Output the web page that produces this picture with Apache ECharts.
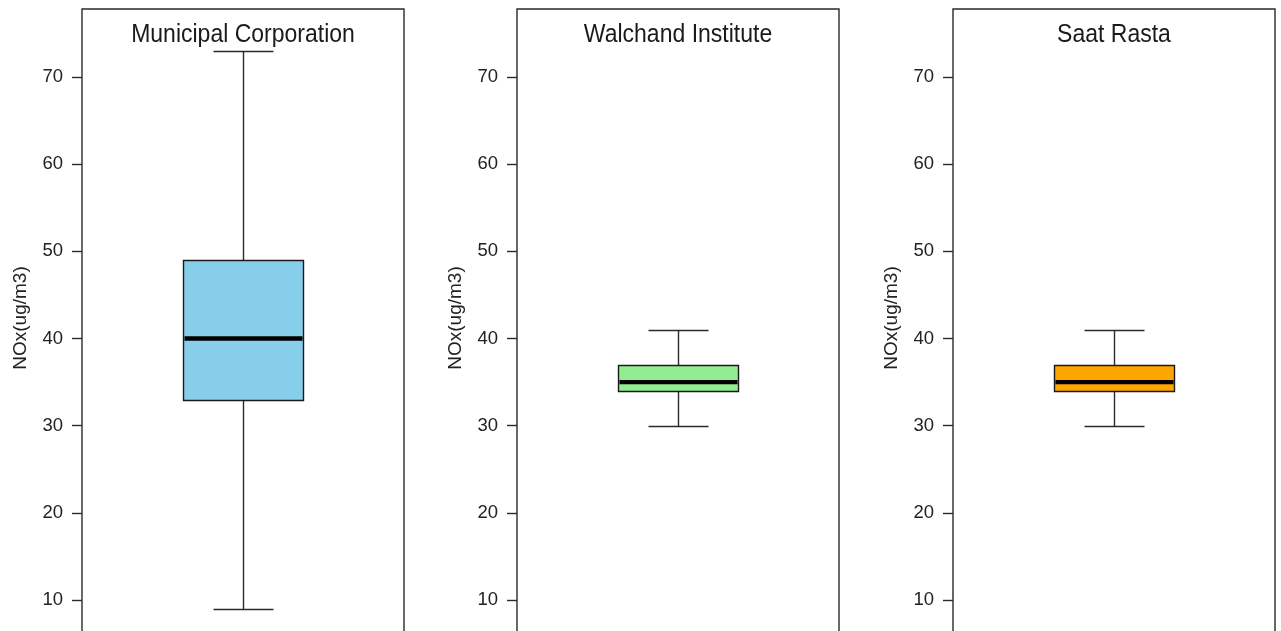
<!DOCTYPE html>
<html><head><meta charset="utf-8">
<script src="https://cdn.jsdelivr.net/npm/echarts@6/dist/echarts.min.js"></script>
<style>html,body{margin:0;padding:0;background:#fff;overflow:hidden}#c{width:1281px;height:631px}</style>
</head><body><div id="c"></div>
<script>
// ---- data ----
const sites = ['Municipal Corporation', 'Walchand Institute', 'Saat Rasta'];
const mins = [9, 30, 30];
const q1s = [33, 34, 34];
const medians = [40, 35, 35];
const q3s = [49, 37, 37];
const maxs = [73, 41, 41];
const yTicks = [10, 20, 30, 40, 50, 60, 70];
const yName = 'NOx(ug/m3)';

// ---- styles / layout ----
const boxColors = ['#87CEEB', '#90EE90', '#FFA500'];
const panelLefts = [82, 517, 953];
const panelWidth = 322;
const gridTop = 9;
const gridHeight = 640;           // extends past the bottom of the canvas (cropped like the reference)
const yMax = 77.8;
const yMin = yMax - gridHeight / 8.717;
const lineCol = '#2a2a2a';
const txtFont = '"Liberation Sans",Arial,sans-serif';

const chart = echarts.init(document.getElementById('c'), null, {renderer: 'canvas'});

function px(v) { return Math.round(v) + 0.5; }

function renderBox(params, api) {
  const xv = api.value(0);
  const pMin = api.coord([xv, api.value(1)]);
  const pQ1 = api.coord([xv, api.value(2)]);
  const pMed = api.coord([xv, api.value(3)]);
  const pQ3 = api.coord([xv, api.value(4)]);
  const pMax = api.coord([xv, api.value(5)]);
  const band = api.size([1, 0])[0];
  const bw = Math.round(band * 0.373);
  const cw = Math.round(bw / 2);
  const cx = px(pMin[0]);
  const s = params.seriesIndex;
  const ls = {stroke: lineCol, lineWidth: 1.4};
  const yQ3 = px(pQ3[1]), yQ1 = px(pQ1[1]);
  return {
    type: 'group',
    children: [
      {type: 'line', shape: {x1: cx, y1: px(pMin[1]), x2: cx, y2: yQ1}, style: ls},
      {type: 'line', shape: {x1: cx, y1: px(pMax[1]), x2: cx, y2: yQ3}, style: ls},
      {type: 'line', shape: {x1: cx - cw / 2, y1: px(pMin[1]), x2: cx + cw / 2, y2: px(pMin[1])}, style: ls},
      {type: 'line', shape: {x1: cx - cw / 2, y1: px(pMax[1]), x2: cx + cw / 2, y2: px(pMax[1])}, style: ls},
      {type: 'rect', shape: {x: cx - bw / 2, y: yQ3, width: bw, height: yQ1 - yQ3},
        style: {fill: boxColors[s], stroke: '#1a1a1a', lineWidth: 1.4}},
      {type: 'line', shape: {x1: cx - bw / 2 + 1, y1: pMed[1], x2: cx + bw / 2 - 1, y2: pMed[1]},
        style: {stroke: '#000', lineWidth: 4.3}}
    ]
  };
}

const grids = [], xAxes = [], yAxes = [], series = [], graphics = [];
sites.forEach((name, i) => {
  grids.push({left: panelLefts[i], width: panelWidth, top: gridTop, height: gridHeight,
    outerBoundsMode: 'none',
    show: true, borderColor: lineCol, borderWidth: 1.4, backgroundColor: 'transparent', containLabel: false});
  xAxes.push({type: 'category', gridIndex: i, data: [name], show: false, boundaryGap: true});
  yAxes.push({
    type: 'value', gridIndex: i, min: yMin, max: yMax,
    name: yName, nameLocation: 'middle', nameRotate: 90, nameGap: 52,
    nameTextStyle: {fontFamily: txtFont, fontSize: 19, color: '#222', padding: [0, 0, 0, 22]},
    axisLine: {show: false},
    axisTick: {show: true, length: 10, customValues: yTicks, lineStyle: {color: lineCol, width: 1.4}},
    axisLabel: {show: true, customValues: yTicks, margin: 19, fontFamily: txtFont, fontSize: 18.5, color: '#222'},
    splitLine: {show: false}
  });
  series.push({
    type: 'custom', xAxisIndex: i, yAxisIndex: i,
    renderItem: renderBox,
    encode: {x: 0, y: [1, 2, 3, 4, 5]},
    data: [[0, mins[i], q1s[i], medians[i], q3s[i], maxs[i]]],
    silent: true, animation: false
  });
  graphics.push({
    type: 'text',
    x: panelLefts[i] + panelWidth / 2, y: 25,
    scaleY: 1.1, originY: 25,
    style: {text: name, font: '23px ' + txtFont, fill: '#1a1a1a', align: 'center', verticalAlign: 'top'}
  });
});

chart.setOption({
  animation: false,
  backgroundColor: '#fff',
  grid: grids, xAxis: xAxes, yAxis: yAxes, series: series,
  graphic: graphics
});
</script></body></html>
